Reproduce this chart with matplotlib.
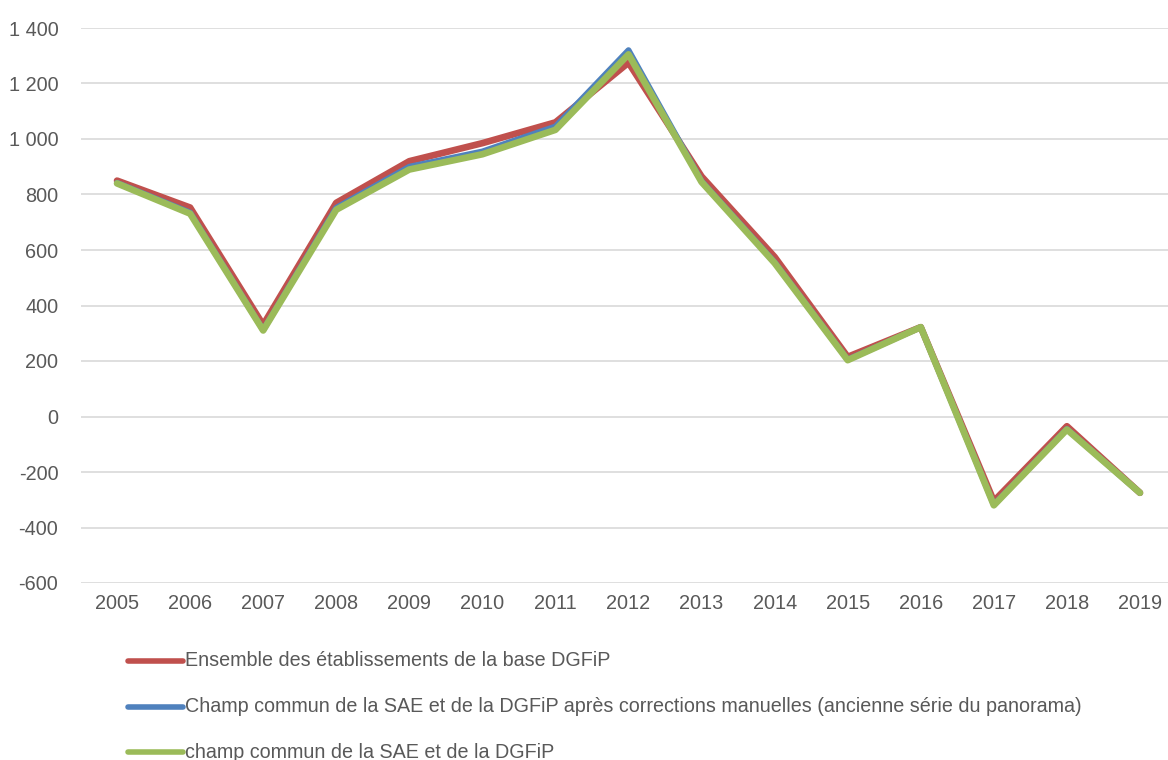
import matplotlib.pyplot as plt
from matplotlib.ticker import FuncFormatter
from matplotlib import font_manager

# ---------------------------
# Data
# ---------------------------
years = [2005, 2006, 2007, 2008, 2009, 2010, 2011, 2012, 2013, 2014, 2015, 2016, 2017, 2018, 2019]
ensemble = [850, 753, 330, 770, 920, 985, 1060, 1275, 865, 575, 215, 322, -305, -35, -275]
champ_corr = [842, 735, 312, 752, 900, 955, 1045, 1320, 848, 556, 205, 322, -318, -45, -275]
champ_commun = [840, 731, 310, 745, 890, 945, 1033, 1305, 845, 553, 203, 322, -320, -47, -275]

labels = [
    "Ensemble des établissements de la base DGFiP",
    "Champ commun de la SAE et de la DGFiP après corrections manuelles (ancienne série du panorama)",
    "champ commun de la SAE et de la DGFiP",
]
colors = ["#C0504D", "#4F81BD", "#9BBB59"]

installed = {f.name for f in font_manager.fontManager.ttflist}
family = "Liberation Sans Narrow" if "Liberation Sans Narrow" in installed else "Liberation Sans"
plt.rcParams["font.family"] = [family, "DejaVu Sans"]
txt = "#595959"

fig = plt.figure(figsize=(11.68, 7.6), dpi=100)
ax = fig.add_axes([80.5 / 1168, 1 - 583 / 760, (1176.5 - 80.5) / 1168, (583 - 28) / 760])

x = list(range(len(years)))
for vals, c, lw in zip([ensemble, champ_corr, champ_commun], colors, [4.8, 4.3, 4.8]):
    ax.plot(x, vals, color=c, lw=lw, solid_joinstyle="round", solid_capstyle="round")

ax.set_xlim(-0.5, len(years) - 0.5)
ax.set_ylim(-600, 1400)
ax.set_yticks(range(-600, 1401, 200))
ax.yaxis.set_major_formatter(FuncFormatter(lambda v, p: f"{int(v):,}".replace(",", " ")))
ax.set_xticks(x)
ax.set_xticklabels([str(y) for y in years])
ax.grid(axis="y", color="#D9D9D9", lw=1.2)
ax.set_axisbelow(True)
for s in ax.spines.values():
    s.set_visible(False)
ax.tick_params(length=0, labelsize=14.3, colors=txt, pad=8)
ax.tick_params(axis="y", pad=16)

# legend below the chart, one entry per row
for i, (lab, c) in enumerate(zip(labels, colors)):
    yy = 1 - (661 + i * 45.5) / 760
    fig.add_artist(plt.Line2D([128 / 1168, 183 / 1168], [yy, yy], color=c, lw=4,
                              solid_capstyle="round", transform=fig.transFigure))
    fig.text(185 / 1168, yy, lab, color=txt, fontsize=14.2, va="center", ha="left")

fig.savefig("out.png", dpi=100)
